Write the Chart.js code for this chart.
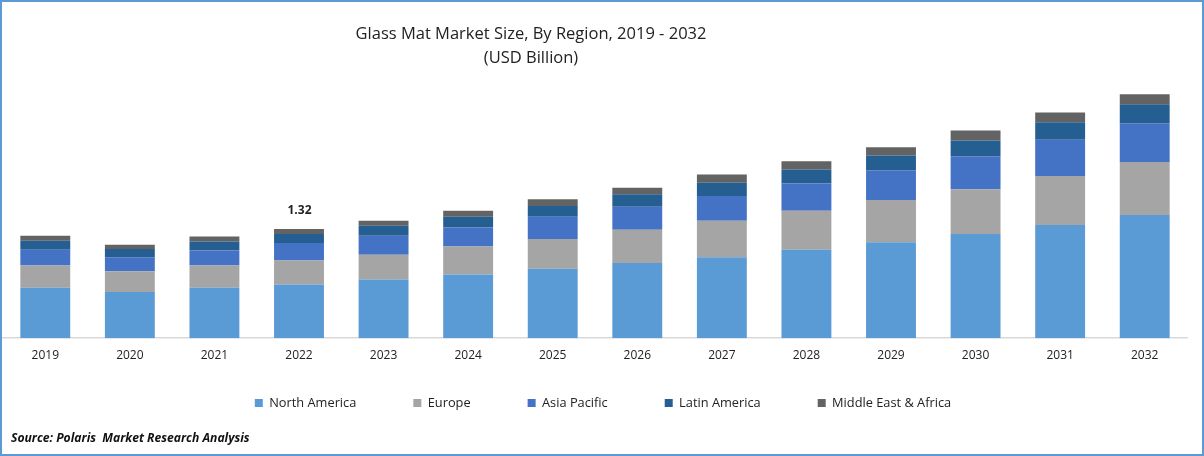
<!DOCTYPE html>
<html><head><meta charset="utf-8">
<script src="https://cdn.jsdelivr.net/npm/chart.js@4"></script>
<style>
html,body{margin:0;padding:0;background:#fff;overflow:hidden}
#wrap{position:relative;width:1204px;height:456px}
#frame{position:absolute;inset:0;box-sizing:border-box;border:2px solid #5b9bd5;pointer-events:none}
canvas{position:absolute;left:0;top:0}
</style></head><body>
<div id="wrap"><canvas id="c" width="1204" height="456"></canvas><div id="frame"></div></div>
<script>
const years=['2019','2020','2021','2022','2023','2024','2025','2026','2027','2028','2029','2030','2031','2032'];
const northAmerica=[0.61,0.56,0.61,0.65,0.71,0.77,0.84,0.91,0.98,1.07,1.16,1.26,1.37,1.49];
const europe=[0.27,0.25,0.27,0.29,0.30,0.34,0.36,0.40,0.44,0.47,0.51,0.54,0.59,0.64];
const asiaPacific=[0.19,0.17,0.18,0.21,0.23,0.23,0.27,0.28,0.30,0.33,0.36,0.40,0.44,0.47];
const latinAmerica=[0.11,0.10,0.11,0.11,0.12,0.13,0.13,0.15,0.16,0.17,0.18,0.19,0.21,0.23];
const middleEastAfrica=[0.06,0.05,0.06,0.06,0.06,0.07,0.08,0.08,0.10,0.10,0.10,0.12,0.12,0.12];
const calloutYear='2022';
const calloutText='1.32';
const FONT='"Open Sans", sans-serif';

const placeBlocks={id:'placeBlocks',afterLayout(chart){
  chart.titleBlock.left=0;chart.titleBlock.right=1062;
  chart.legend.left=0;chart.legend.right=1206;chart.legend.top=339.5;
  const s=chart.boxes.find(b=>b!==chart.titleBlock&&b.options&&b.options.text&&b.options.position==='bottom');
  if(s){s.left=11;s.right=600;s.top=427;}
}};
const callout={id:'callout',afterDatasetsDraw(chart){
  const i=years.indexOf(calloutYear),m=chart.getDatasetMeta(chart.data.datasets.length-1).data[i];
  const c=chart.ctx;c.save();c.font='bold 12px '+FONT;c.fillStyle='#222';c.textAlign='center';c.textBaseline='bottom';
  c.fillText(calloutText,m.x+0.5,m.y-12);c.restore();
}};
new Chart(document.getElementById('c'),{
  type:'bar',
  data:{labels:years,datasets:[
    {label:'North America',data:northAmerica,backgroundColor:'#5b9bd5'},
    {label:'Europe',data:europe,backgroundColor:'#a5a5a5'},
    {label:'Asia Pacific',data:asiaPacific,backgroundColor:'#4472c4'},
    {label:'Latin America',data:latinAmerica,backgroundColor:'#255e91'},
    {label:'Middle East & Africa',data:middleEastAfrica,backgroundColor:'#636363'}
  ]},
  options:{
    responsive:false,animation:false,devicePixelRatio:1,
    layout:{padding:{left:3,right:17,top:0,bottom:-15}},
    datasets:{bar:{categoryPercentage:1,barPercentage:0.59,borderWidth:0}},
    scales:{
      x:{stacked:true,grid:{display:false,drawTicks:false},border:{color:'#d9d9d9',width:1.5},
         ticks:{color:'#222',font:{family:FONT,size:12},padding:10,maxRotation:0}},
      y:{stacked:true,display:false,min:0,max:3.136}
    },
    plugins:{
      tooltip:{enabled:false},
      title:{display:true,text:['Glass Mat Market Size, By Region, 2019 - 2032','(USD Billion)'],color:'#222',
        font:{family:FONT,size:16.5,weight:'normal',lineHeight:1.45},padding:{top:22,bottom:9}},
      legend:{position:'bottom',labels:{boxWidth:8,boxHeight:8,padding:57,color:'#222',font:{family:FONT,size:12.8}}},
      subtitle:{display:true,position:'bottom',align:'start',text:'Source: Polaris  Market Research Analysis',color:'#111',
        font:{family:FONT,size:12.15,weight:'bold',style:'italic'},padding:{top:4,bottom:0}}
    }
  },
  plugins:[placeBlocks,callout]
});
</script></body></html>
